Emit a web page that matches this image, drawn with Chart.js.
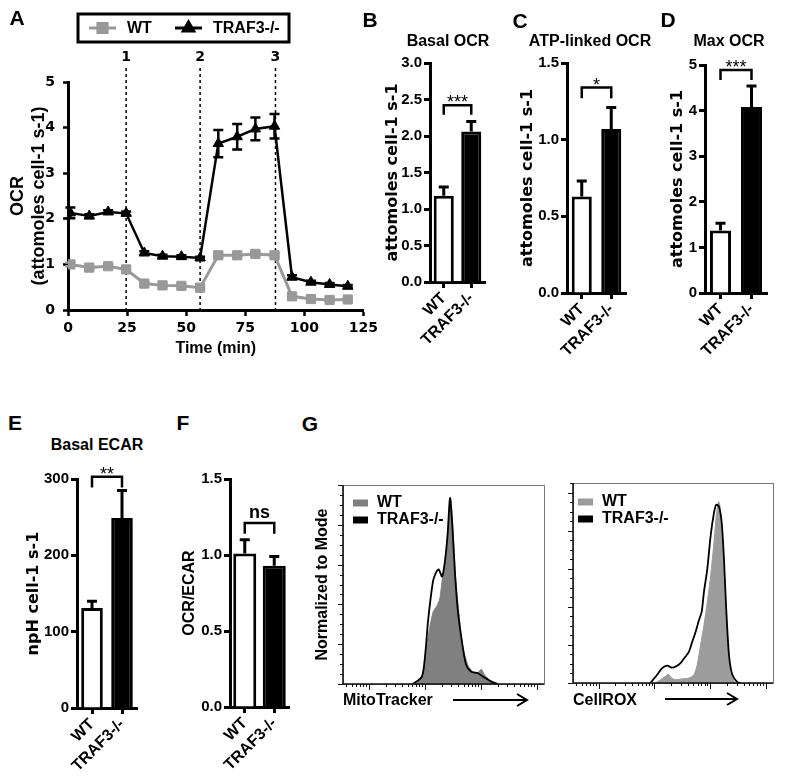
<!DOCTYPE html>
<html>
<head>
<meta charset="utf-8">
<script src="https://cdn.jsdelivr.net/npm/chart.js@4.4.1/dist/chart.umd.min.js"></script>
<style>
  body { margin: 0; background: #fff; }
  #page { position: relative; width: 787px; height: 779px; font-family: "Liberation Sans", Arial, sans-serif; font-weight: bold; color: #000; overflow: hidden; }
  canvas { position: absolute; }
  .t { position: absolute; transform: translate(-50%, -50%); white-space: nowrap; }
  .letter { font-size: 21px; }
  .ttl { font-size: 16px; }
</style>
</head>
<body>
<div id="page">
  <canvas id="cA" width="382" height="360" style="left:0px;top:0px"></canvas>
  <canvas id="cB" width="115" height="300" style="left:380px;top:50px"></canvas>
  <canvas id="cC" width="120" height="310" style="left:512px;top:50px"></canvas>
  <canvas id="cD" width="115" height="310" style="left:660px;top:50px"></canvas>
  <canvas id="cE" width="130" height="319" style="left:15px;top:460px"></canvas>
  <canvas id="cF" width="120" height="319" style="left:175px;top:460px"></canvas>
  <canvas id="cG1" width="250" height="241" style="left:300px;top:470px"></canvas>
  <canvas id="cG2" width="225" height="241" style="left:555px;top:470px"></canvas>

  <div class="t letter" style="left:17px;top:18px">A</div>
  <div class="t letter" style="left:370px;top:20px">B</div>
  <div class="t letter" style="left:520px;top:21px">C</div>
  <div class="t letter" style="left:668px;top:20px">D</div>
  <div class="t letter" style="left:15px;top:423px">E</div>
  <div class="t letter" style="left:183px;top:423px">F</div>
  <div class="t letter" style="left:310px;top:424px">G</div>

  <div class="t ttl" style="left:448px;top:41px">Basal OCR</div>
  <div class="t ttl" style="left:590px;top:41px">ATP-linked OCR</div>
  <div class="t ttl" style="left:729px;top:41px">Max OCR</div>
  <div class="t ttl" style="left:97px;top:445px">Basal ECAR</div>
</div>

<script>
// ---- data ----
const groups = ['WT', 'TRAF3-/-'];

// A: Seahorse OCR trace
const timeMin = [1, 9, 17, 24.6, 32.3, 40, 48, 55.9, 63.6, 71.6, 79.3, 87.4, 94.8, 102.8, 110.7, 118.4];
const ocrWT = [1.0, 0.93, 0.96, 0.89, 0.58, 0.54, 0.53, 0.49, 1.2, 1.2, 1.23, 1.2, 0.3, 0.24, 0.22, 0.23];
const ocrWTErr = [0.04, 0.03, 0.03, 0.03, 0.03, 0.03, 0.03, 0.03, 0.04, 0.04, 0.04, 0.04, 0.03, 0.02, 0.02, 0.02];
const ocrKO = [2.13, 2.06, 2.15, 2.12, 1.25, 1.18, 1.17, 1.14, 3.65, 3.8, 3.97, 4.03, 0.72, 0.61, 0.56, 0.52];
const ocrKOErr = [0.12, 0.04, 0.04, 0.04, 0.04, 0.03, 0.03, 0.03, 0.3, 0.28, 0.25, 0.27, 0.04, 0.03, 0.03, 0.03];
const injectTimes = [24.6, 55.9, 87.8];
const injectLabels = ['1', '2', '3'];

// B-F: bar panels
const basalOCR = [1.18, 2.06];    const basalOCRErr = [0.12, 0.14];
const atpOCR = [0.63, 1.07];      const atpOCRErr = [0.1, 0.14];
const maxOCR = [1.37, 4.08];      const maxOCRErr = [0.16, 0.46];
const basalECAR = [131, 249];     const basalECARErr = [9, 36];
const ocrEcar = [1.01, 0.93];     const ocrEcarErr = [0.09, 0.06];

// G: flow histograms (x in log10 fluorescence, y normalized to mode)
const mitoLogKO = [2.79, 2.95, 3.01, 3.06, 3.15, 3.21, 3.25, 3.31, 3.36, 3.41, 3.45, 3.49, 3.54, 3.59, 3.66, 3.74, 3.83, 3.95, 4.04, 4.19, 4.31];
const mitoKO    = [0, 0.037, 0.154, 0.32, 0.52, 0.565, 0.576, 0.54, 0.615, 0.757, 0.933, 0.807, 0.556, 0.372, 0.221, 0.095, 0.062, 0.054, 0.037, 0.012, 0];
const mitoLogWT = [2.82, 2.97, 3.06, 3.15, 3.21, 3.27, 3.31, 3.36, 3.41, 3.46, 3.5, 3.55, 3.61, 3.68, 3.77, 3.86, 3.95, 4.01, 4.07, 4.16, 4.28];
const mitoWT    = [0, 0.054, 0.238, 0.363, 0.389, 0.43, 0.52, 0.606, 0.757, 0.94, 0.807, 0.54, 0.355, 0.188, 0.095, 0.062, 0.057, 0.074, 0.045, 0.02, 0];
const roxLogKO = [2.93, 3.05, 3.14, 3.23, 3.31, 3.38, 3.47, 3.56, 3.62, 3.68, 3.74, 3.8, 3.85, 3.89, 3.95, 4.01, 4.07, 4.11, 4.16, 4.21, 4.25, 4.29, 4.34, 4.4, 4.49, 4.55];
const roxKO    = [0, 0.043, 0.078, 0.091, 0.081, 0.086, 0.104, 0.139, 0.164, 0.216, 0.268, 0.329, 0.373, 0.477, 0.597, 0.771, 0.893, 0.936, 0.927, 0.84, 0.65, 0.39, 0.147, 0.043, 0.005, 0];
const roxLogWT = [3.02, 3.11, 3.2, 3.25, 3.31, 3.38, 3.5, 3.62, 3.71, 3.77, 3.83, 3.89, 3.95, 4.01, 4.07, 4.11, 4.15, 4.17, 4.21, 4.25, 4.29, 4.34, 4.4, 4.46];
const roxWT    = [0, 0.017, 0.035, 0.047, 0.026, 0.017, 0.022, 0.026, 0.043, 0.096, 0.2, 0.303, 0.424, 0.563, 0.736, 0.875, 0.952, 0.944, 0.823, 0.597, 0.355, 0.112, 0.026, 0];

// ---- defaults ----
const FONT = '"Liberation Sans", Arial, sans-serif';
const WIDE = '"DejaVu Sans", sans-serif';   // the A-F panels are set wider than Arial
Chart.defaults.font.family = FONT;
Chart.defaults.font.weight = 'bold';
Chart.defaults.color = '#000';
Chart.defaults.animation = false;
Chart.defaults.plugins.legend.display = false;
Chart.defaults.plugins.tooltip.enabled = false;

const pts = (xs, ys) => xs.map((x, i) => ({ x: x, y: ys[i] }));

// error bars (up only for bars, both ways for the trace)
const errorBarPlugin = {
  id: 'errorBars',
  afterDatasetsDraw(chart, args, opts) {
    const ctx = chart.ctx, y = chart.scales.y;
    chart.data.datasets.forEach((ds, di) => {
      if (!ds.errors) return;
      const meta = chart.getDatasetMeta(di);
      meta.data.forEach((el, i) => {
        const d = ds.data[i];
        const val = typeof d === 'object' ? d.y : d;
        const top = y.getPixelForValue(val + ds.errors[i]);
        const bot = opts.upOnly ? y.getPixelForValue(val) : y.getPixelForValue(val - ds.errors[i]);
        const c = opts.cap / 2;
        ctx.save();
        ctx.strokeStyle = ds.errorColor || '#000';
        ctx.lineWidth = opts.width;
        ctx.beginPath();
        ctx.moveTo(el.x, top); ctx.lineTo(el.x, bot);
        ctx.moveTo(el.x - c, top); ctx.lineTo(el.x + c, top);
        if (!opts.upOnly) { ctx.moveTo(el.x - c, bot); ctx.lineTo(el.x + c, bot); }
        ctx.stroke();
        ctx.restore();
      });
    });
  }
};

// significance bracket between the two bars
const sigPlugin = {
  id: 'sig',
  afterDraw(chart, args, o) {
    const ctx = chart.ctx, x = chart.scales.x, y = chart.scales.y;
    const x0 = x.getPixelForValue(0), x1 = x.getPixelForValue(1);
    const yt = y.getPixelForValue(o.level), yb = y.getPixelForValue(o.level - o.drop);
    ctx.save();
    ctx.strokeStyle = '#000'; ctx.lineWidth = 2.5;
    ctx.beginPath();
    ctx.moveTo(x0, yb); ctx.lineTo(x0, yt); ctx.lineTo(x1, yt); ctx.lineTo(x1, yb);
    ctx.stroke();
    ctx.font = o.font; ctx.fillStyle = '#000';
    ctx.textAlign = 'center'; ctx.textBaseline = 'alphabetic';
    ctx.fillText(o.text, (x0 + x1) / 2, yt - o.gap);
    ctx.restore();
  }
};

// injection markers + boxed legend for panel A
const seahorsePlugin = {
  id: 'seahorse',
  beforeDatasetsDraw(chart, args, o) {
    const ctx = chart.ctx, x = chart.scales.x, a = chart.chartArea;
    ctx.save();
    ctx.setLineDash([3, 3]); ctx.lineWidth = 1.5; ctx.strokeStyle = '#000';
    o.times.forEach(t => {
      const px = x.getPixelForValue(t);
      ctx.beginPath(); ctx.moveTo(px, a.top - 14); ctx.lineTo(px, a.bottom); ctx.stroke();
    });
    ctx.restore();
  },
  afterDraw(chart, args, o) {
    const ctx = chart.ctx, x = chart.scales.x, a = chart.chartArea;
    ctx.save();
    ctx.fillStyle = '#000';
    ctx.font = 'bold 14px ' + WIDE; ctx.textAlign = 'center'; ctx.textBaseline = 'middle';
    o.times.forEach((t, i) => ctx.fillText(o.labels[i], x.getPixelForValue(t), a.top - 25));
    // legend box
    ctx.lineWidth = 3; ctx.strokeStyle = '#000';
    ctx.strokeRect(78, 14, 211, 28);
    const ly = 28, lx = [89, 175];
    ctx.font = 'bold 16px ' + FONT; ctx.textAlign = 'left';
    chart.data.datasets.forEach((ds, i) => {
      ctx.strokeStyle = ds.borderColor; ctx.fillStyle = ds.backgroundColor; ctx.lineWidth = 3;
      ctx.beginPath(); ctx.moveTo(lx[i], ly); ctx.lineTo(lx[i] + 27, ly); ctx.stroke();
      Chart.helpers.drawPoint(ctx, { pointStyle: ds.pointStyle, radius: ds.pointRadius, rotation: 0, borderWidth: 1 }, lx[i] + 13.5, ly);
      ctx.fillStyle = '#000';
      ctx.fillText(ds.label, lx[i] + 38, ly + 1);
    });
    ctx.restore();
  }
};

// frame, log ticks, legend and arrow for flow histograms
const flowPlugin = {
  id: 'flow',
  afterDraw(chart, args, o) {
    const ctx = chart.ctx, a = chart.chartArea, x = chart.scales.x, y = chart.scales.y;
    ctx.save();
    ctx.strokeStyle = '#777'; ctx.lineWidth = 1;
    ctx.strokeRect(a.left + 0.5, a.top + 0.5, a.right - a.left, a.bottom - a.top);
    ctx.strokeStyle = '#111'; ctx.lineWidth = 1.5;
    ctx.beginPath();
    ctx.moveTo(a.left, a.top); ctx.lineTo(a.left, a.bottom); ctx.lineTo(a.right, a.bottom);
    ctx.stroke();
    ctx.lineWidth = 1;
    ctx.beginPath();
    const nMinor = Math.floor(y.max / o.yMinor + 1e-6);
    for (let k = 0; k <= nMinor; k++) {
      const py = Math.round(y.getPixelForValue(k * o.yMinor)) + 0.5;
      const len = (k % o.perMajor === 0) ? 5 : 3;
      ctx.moveTo(a.left, py); ctx.lineTo(a.left - len, py);
    }
    for (let d = Math.floor(x.min); d <= Math.ceil(x.max); d++) {
      for (let m = 1; m <= 9; m++) {
        const v = d + Math.log10(m);
        if (v < x.min || v > x.max) continue;
        const px = Math.round(x.getPixelForValue(v)) + 0.5;
        const len = m === 1 ? 6 : 3;
        ctx.moveTo(px, a.bottom); ctx.lineTo(px, a.bottom + len);
      }
    }
    ctx.stroke();
    // legend
    ctx.font = 'bold 16px ' + FONT; ctx.textAlign = 'left'; ctx.textBaseline = 'middle';
    chart.data.datasets.forEach((ds, i) => {
      const ry = a.top + o.legY + i * 17;
      ctx.fillStyle = i === 0 ? o.swatch : '#000';
      ctx.fillRect(a.left + o.legX, ry - 3.5, 15, 7);
      ctx.fillStyle = '#000';
      ctx.fillText(ds.label, a.left + o.legX + 24, ry);
    });
    // arrow
    const ay = a.bottom + 16, ax0 = a.left + o.arrow[0], ax1 = a.left + o.arrow[1];
    ctx.strokeStyle = '#000'; ctx.lineWidth = 2;
    ctx.beginPath();
    ctx.moveTo(ax0, ay); ctx.lineTo(ax1, ay);
    ctx.moveTo(ax1 - 10, ay - 6); ctx.lineTo(ax1, ay); ctx.lineTo(ax1 - 10, ay + 6);
    ctx.stroke();
    ctx.restore();
  }
};

// ---- panel A ----
new Chart(document.getElementById('cA'), {
  type: 'line',
  data: {
    datasets: [
      { label: 'WT', data: pts(timeMin, ocrWT), errors: ocrWTErr, errorColor: '#999',
        borderColor: '#999', backgroundColor: '#999', borderWidth: 3,
        pointStyle: 'rect', pointRadius: 6.5, pointBorderWidth: 1, order: 2 },
      { label: 'TRAF3-/-', data: pts(timeMin, ocrKO), errors: ocrKOErr,
        borderColor: '#000', backgroundColor: '#000', borderWidth: 2.5,
        pointStyle: 'triangle', pointRadius: 6, pointBorderWidth: 1, order: 1 }
    ]
  },
  options: {
    responsive: false,
    layout: { padding: { top: 82, right: 17, left: 0, bottom: 0 } },
    plugins: {
      errorBars: { upOnly: false, width: 2.5, cap: 10 },
      seahorse: { times: injectTimes, labels: injectLabels }
    },
    scales: {
      x: {
        type: 'linear', min: 0, max: 125,
        ticks: { stepSize: 25, padding: 4, font: { family: WIDE, size: 14, weight: 'bold' } },
        grid: { drawOnChartArea: false, tickLength: 6, tickWidth: 2.5, tickColor: '#000' },
        border: { color: '#000', width: 3 },
        title: { display: true, text: 'Time (min)', font: { size: 16, weight: 'bold' }, padding: { top: 2, bottom: 2 } },
        afterFit: s => { s.height = 50; }
      },
      y: {
        min: 0, max: 5,
        ticks: { stepSize: 1, padding: 8, font: { family: WIDE, size: 14, weight: 'bold' } },
        grid: { drawOnChartArea: false, tickLength: 5, tickWidth: 2.5, tickColor: '#000' },
        border: { color: '#000', width: 3 },
        title: { display: true, text: ['OCR', '(attomoles cell-1 s-1)'], font: { size: 18, weight: 'bold' }, padding: { top: 7, bottom: 0 } },
        afterFit: s => { s.width = 68; }
      }
    }
  },
  plugins: [errorBarPlugin, seahorsePlugin]
});

// ---- bar panels ----
function barPanel(id, values, errs, o) {
  return new Chart(document.getElementById(id), {
    type: 'bar',
    data: {
      labels: groups,
      datasets: [{
        data: values, errors: errs,
        backgroundColor: ['#fff', '#000'], borderColor: '#000', borderWidth: 3,
        borderSkipped: 'bottom', barPercentage: o.barPct, categoryPercentage: 1
      }]
    },
    options: {
      responsive: false,
      layout: { padding: { top: o.padTop, right: o.padRight, left: 0, bottom: 0 } },
      plugins: {
        errorBars: { upOnly: true, width: 3, cap: 10 },
        sig: o.sig
      },
      scales: {
        x: {
          grid: { drawOnChartArea: false, offset: false, tickLength: 6, tickWidth: 3, tickColor: '#000' },
          border: { color: '#000', width: 3 },
          ticks: { minRotation: 45, maxRotation: 45, autoSkip: false, padding: 1, font: { size: 16, weight: 'bold' } },
          afterFit: s => { s.height = o.xh; }
        },
        y: {
          min: 0, max: o.max,
          ticks: { stepSize: o.step, padding: 2, font: { size: 15, weight: 'bold' }, callback: v => v.toFixed(o.dec) },
          grid: { drawOnChartArea: false, tickLength: 6, tickWidth: 3, tickColor: '#000' },
          border: { color: '#000', width: 3 },
          title: { display: true, text: o.ytitle, font: { family: o.tfamily || WIDE, size: o.tsize || 16, weight: 'bold' }, padding: { top: o.tpad, bottom: 0 } },
          afterFit: s => { s.width = o.yw; }
        }
      }
    },
    plugins: [errorBarPlugin, sigPlugin]
  });
}

const starFont = '18px ' + FONT;
barPanel('cB', basalOCR, basalOCRErr, {
  max: 3, step: 0.5, dec: 1, yw: 50, xh: 68, padTop: 13, padRight: 10, barPct: 0.73, tpad: 3,
  ytitle: 'attomoles cell-1 s-1',
  sig: { level: 2.42, drop: 0.13, text: '***', font: starFont, gap: -3 }
});
barPanel('cC', atpOCR, atpOCRErr, {
  max: 1.5, step: 0.5, dec: 1, yw: 55, xh: 67, padTop: 13, padRight: 6, barPct: 0.68, tpad: 6,
  ytitle: 'attomoles cell-1 s-1',
  sig: { level: 1.34, drop: 0.07, text: '*', font: starFont, gap: -3 }
});
barPanel('cD', maxOCR, maxOCRErr, {
  max: 5, step: 1, dec: 0, yw: 45, xh: 67, padTop: 15, padRight: 8, barPct: 0.68, tpad: 8,
  ytitle: 'attomoles cell-1 s-1',
  sig: { level: 4.89, drop: 0.22, text: '***', font: starFont, gap: -3 }
});
barPanel('cE', basalECAR, basalECARErr, {
  max: 300, step: 100, dec: 0, yw: 62, xh: 71, padTop: 19, padRight: 8, barPct: 0.72, tpad: 9,
  ytitle: 'npH cell-1 s-1',
  sig: { level: 303, drop: 14, text: '**', font: starFont, gap: -3 }
});
barPanel('cF', ocrEcar, ocrEcarErr, {
  max: 1.5, step: 0.5, dec: 1, yw: 55, xh: 72, padTop: 19, padRight: 6, barPct: 0.78, tpad: 5, tsize: 16, tfamily: FONT,
  ytitle: 'OCR/ECAR',
  sig: { level: 1.21, drop: 0.07, text: 'ns', font: 'bold 18px ' + FONT, gap: 5 }
});

// ---- flow panels ----
function flowPanel(id, xKO, yKO, xWT, yWT, o) {
  return new Chart(document.getElementById(id), {
    type: 'line',
    data: {
      datasets: [
        { label: 'WT', data: pts(xWT, yWT), fill: 'origin', backgroundColor: o.fill, borderColor: o.fill,
          borderWidth: 1, pointRadius: 0, tension: 0.25, order: 2 },
        { label: 'TRAF3-/-', data: pts(xKO, yKO), fill: false, borderColor: '#000', backgroundColor: '#000',
          borderWidth: 1.8, pointRadius: 0, tension: 0.25, order: 1 }
      ]
    },
    options: {
      responsive: false,
      layout: { padding: { top: o.padTop, right: o.padRight, left: 0, bottom: 0 } },
      plugins: {
        flow: { yMinor: 0.05, perMajor: 4, legX: o.legX, legY: o.legY, swatch: o.fill, arrow: o.arrow }
      },
      scales: {
        x: {
          type: 'linear', min: 1.54, max: 5.13,
          ticks: { display: false }, grid: { display: false }, border: { display: false },
          title: { display: true, text: o.marker, align: 'start', font: { size: 16, weight: 'bold' }, padding: { top: 0, bottom: 1 } },
          afterFit: s => { s.height = o.xh; }
        },
        y: {
          min: 0, max: o.ymax,
          ticks: { display: false }, grid: { display: false }, border: { display: false },
          title: { display: !!o.ytitle, text: o.ytitle || '', font: { size: 16, weight: 'bold' }, padding: { top: 13, bottom: 0 } },
          afterFit: s => { s.width = o.yw; }
        }
      }
    },
    plugins: [flowPlugin]
  });
}

flowPanel('cG1', mitoLogKO, mitoKO, mitoLogWT, mitoWT, {
  fill: '#808080', ymax: 1.0, yw: 43, xh: 27, padTop: 15, padRight: 6,
  legX: 10, legY: 18, arrow: [110, 184], marker: 'MitoTracker', ytitle: 'Normalized to Mode'
});
flowPanel('cG2', roxLogKO, roxKO, roxLogWT, roxWT, {
  fill: '#9c9c9c', ymax: 1.05, yw: 18, xh: 28, padTop: 13, padRight: 7,
  legX: 5, legY: 19, arrow: [92, 164], marker: 'CellROX'
});
</script>
</body>
</html>
